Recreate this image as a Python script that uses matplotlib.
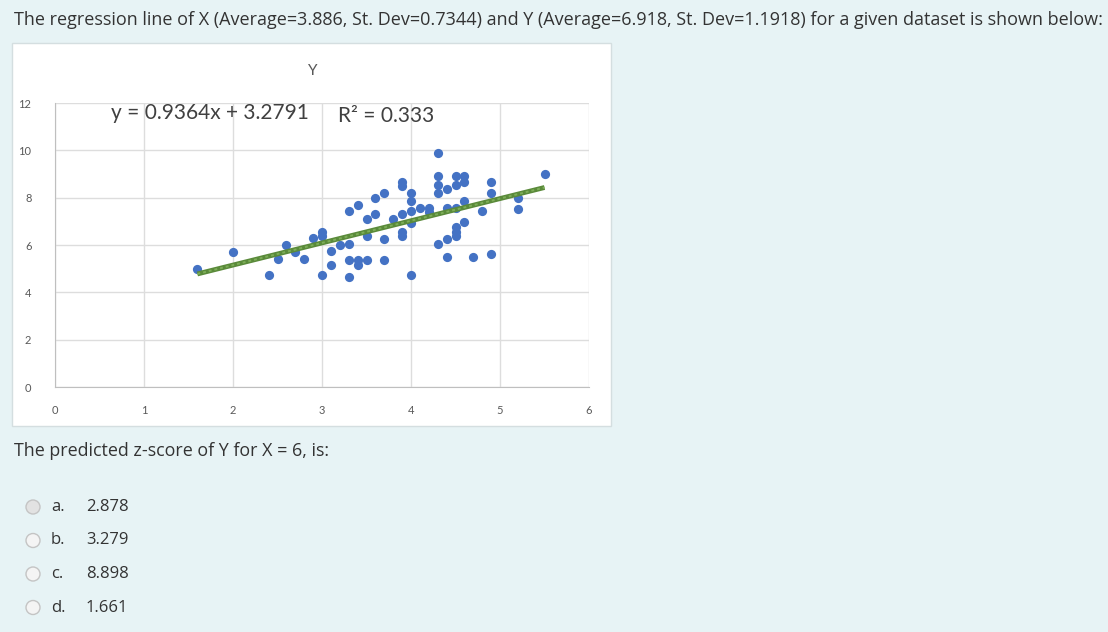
import numpy as np
import matplotlib.pyplot as plt
from matplotlib.patches import Rectangle, Circle

# scatter data
x_vals = [1.6, 2.0, 2.4, 2.5, 2.6, 2.7, 2.8, 2.9, 3.0, 3.0, 3.0,
          3.1, 3.1, 3.2, 3.3, 3.3, 3.3, 3.3, 3.4, 3.4, 3.4,
          3.5, 3.5, 3.5, 3.6, 3.6, 3.7, 3.7, 3.7, 3.8,
          3.9, 3.9, 3.9, 3.9, 3.9, 4.0, 4.0, 4.0, 4.0, 4.0,
          4.1, 4.2, 4.2, 4.3, 4.3, 4.3, 4.3, 4.3,
          4.4, 4.4, 4.4, 4.4, 4.5, 4.5, 4.5, 4.5, 4.5, 4.5,
          4.6, 4.6, 4.6, 4.6, 4.7, 4.8, 4.9, 4.9, 4.9,
          5.2, 5.2, 5.5]
y_vals = [5.0, 5.7, 4.75, 5.4, 6.0, 5.7, 5.4, 6.3, 6.55, 6.4, 4.75,
          5.75, 5.17, 6.0, 6.05, 7.42, 5.38, 4.66, 7.7, 5.38, 5.17,
          7.1, 6.37, 5.38, 8.0, 7.3, 8.2, 6.27, 5.38, 7.1,
          8.65, 8.5, 7.3, 6.53, 6.37, 8.18, 7.84, 7.42, 6.95, 4.75,
          7.55, 7.55, 7.4, 9.9, 8.9, 8.55, 8.18, 6.06,
          8.35, 7.55, 6.27, 5.5, 8.9, 8.55, 7.55, 6.78, 6.57, 6.37,
          8.9, 8.65, 7.88, 6.99, 5.5, 7.42, 8.65, 8.18, 5.63,
          8.0, 7.54, 9.0]

slope = 0.9364
intercept = 3.2791
trend_x = [1.6, 5.5]

header = ("The regression line of X (Average=3.886, St. Dev=0.7344) and "
          "Y (Average=6.918, St. Dev=1.1918) for a given dataset is shown below:")
question = "The predicted z-score of Y for X = 6, is:"
option_letters = ["a.", "b.", "c.", "d."]
option_values = ["2.878", "3.279", "8.898", "1.661"]

W, H = 1108, 632
fig = plt.figure(figsize=(W / 100, H / 100), dpi=100)
fig.patch.set_facecolor('#E7F3F5')

# white chart card behind everything
fig.patches.append(Rectangle((12 / W, 1 - 426 / H), 599 / W, 383 / H, transform=fig.transFigure,
                             facecolor='white', edgecolor='#D4DEE0', lw=1, zorder=-1))

# chart
ax = fig.add_axes([55 / W, 1 - 387 / H, (589 - 55) / W, (387 - 103) / H])
ax.set_xlim(0, 6)
ax.set_ylim(0, 12)
ax.set_xticks(range(0, 7))
ax.set_yticks(range(0, 13, 2))
ax.grid(True, color='#DDDDDD', lw=1)
ax.set_axisbelow(True)
for side in ['top', 'right']:
    ax.spines[side].set_visible(False)
for side in ['left', 'bottom']:
    ax.spines[side].set_color('#BFBFBF')
ax.tick_params(length=0, labelsize=8, colors='#595959')
ax.tick_params(axis='x', pad=13)
ax.tick_params(axis='y', pad=17)
for lab in ax.get_xticklabels() + ax.get_yticklabels():
    lab.set_family('Lato')

ax.scatter(x_vals, y_vals, s=44, color='#4472C4', zorder=3, linewidths=0)

tx = np.array(trend_x)
ty = slope * tx + intercept
ax.plot(tx, ty, color='#5A8A3A', lw=3.5, zorder=4, solid_capstyle='butt')
ax.plot(tx, ty, color='#7DAE58', lw=1.4, zorder=5, dashes=(1.5, 1.5))

# page layer in pixel coordinates, transparent, on top
page = fig.add_axes([0, 0, 1, 1], zorder=5)
page.set_xlim(0, W)
page.set_ylim(H, 0)
page.axis('off')
page.patch.set_visible(False)

page.text(14, 20, header, fontsize=13.0, family='Open Sans', color='#333333', va='center')
page.text(313, 71, "Y", fontsize=11, family='Lato', color='#595959', ha='center', va='center')
page.text(14, 451, question, fontsize=12.9, family='Open Sans', color='#333333', va='center')
page.text(210, 113, "y = 0.9364x + 3.2791", fontsize=15, family='Lato', color='#404040',
          ha='center', va='center')
page.text(386, 116, "R² = 0.333", fontsize=15, family='Lato', color='#404040',
          ha='center', va='center')

for i, (let, val) in enumerate(zip(option_letters, option_values)):
    yy = 507 + i * 33.5
    face = '#E2E2E2' if i == 0 else '#F4F4F4'
    page.add_patch(Circle((33, yy), 7, facecolor=face, edgecolor='#C4C4C4', lw=1))
    page.text(51, yy, let, fontsize=12, family='Open Sans', color='#333333', va='center')
    page.text(86, yy, val, fontsize=12, family='Open Sans', color='#333333', va='center')

fig.savefig('out.png', dpi=100, facecolor=fig.get_facecolor())
